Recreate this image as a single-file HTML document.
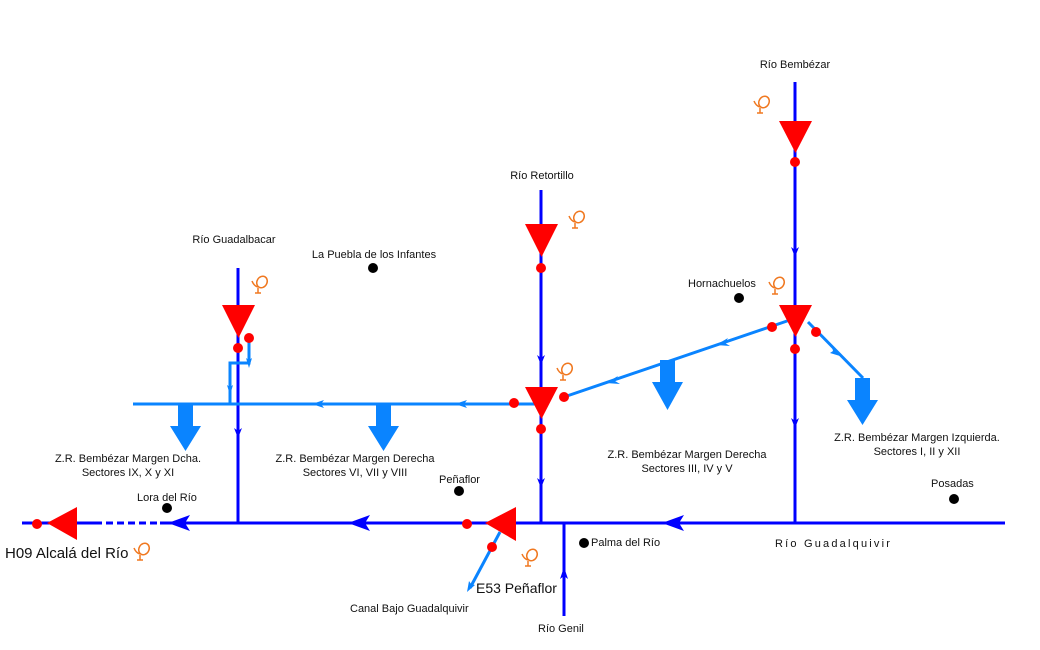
<!DOCTYPE html>
<html><head><meta charset="utf-8"><style>body{margin:0;background:#fff}svg{display:block}text{font-family:"Liberation Sans",sans-serif;font-size:11px;fill:#111}</style></head><body>
<svg width="1040" height="650" viewBox="0 0 1040 650">
<defs>
<g id="ic" fill="none" stroke="#f07820" stroke-width="1.5"><ellipse cx="4" cy="-3" rx="5" ry="6" transform="rotate(30 4 -3)"/><path d="M-6 -4 q2 5 6 6 M0 3 v5 M-3 8 h6"/></g>
</defs>
<g stroke="#0000ff" stroke-width="3" fill="none">
<line x1="22" y1="523" x2="95" y2="523"/>
<line x1="95" y1="523" x2="160" y2="523" stroke-dasharray="7,4"/>
<line x1="160" y1="523" x2="1005" y2="523"/>
<line x1="564" y1="523" x2="564" y2="616"/>
<line x1="541" y1="190" x2="541" y2="523"/>
<line x1="795" y1="82" x2="795" y2="523"/>
<line x1="238" y1="268" x2="238" y2="523"/>
</g>
<g fill="#0000ff">
<path d="M168 523 l22 -8 l-5 8 l5 8z"/>
<path d="M348 523 l22 -8 l-5 8 l5 8z"/>
<path d="M662 523 l22 -8 l-5 8 l5 8z"/>
<path d="M564 567 l-4 12 l4 -3 l4 3z"/>
<path d="M541 365 l-4 -10 l4 3 l4 -3z"/><path d="M541 488 l-4 -10 l4 3 l4 -3z"/>
<path d="M795 257 l-4 -10 l4 3 l4 -3z"/><path d="M795 428 l-4 -10 l4 3 l4 -3z"/>
<path d="M238 438 l-4 -10 l4 3 l4 -3z"/>
</g>
<g stroke="#0a84ff" stroke-width="3" fill="none">
<line x1="133" y1="404" x2="540" y2="404"/>
<line x1="564" y1="397" x2="790" y2="320"/>
<line x1="808" y1="322" x2="863" y2="378"/>
<polyline points="249,338 249,363 230,363 230,404"/>
<line x1="500" y1="532" x2="470" y2="588"/>
</g>
<g fill="#0a84ff">
<path d="M312 404 l12 -4 l-3 4 l3 4z"/><path d="M455 404 l12 -4 l-3 4 l3 4z"/>
<path d="M606 383 l12 -7 l-3 5 l5 3z"/><path d="M716 345 l12 -7 l-3 5 l5 3z"/>
<path d="M840 356 l-10 -3 l3 -2 l-1 -4z"/>
<path d="M249 368 l-3 -10 l3 2 l3 -2z"/><path d="M230 395 l-3 -10 l3 2 l3 -2z"/>
<path d="M467 592 l2 -11 l2 3 l4 1z"/>
<path d="M178 404 h15 v22 h8 l-15.5 25 l-15.5 -25 h8z"/>
<path d="M376 404 h15 v22 h8 l-15.5 25 l-15.5 -25 h8z"/>
<path d="M660 360 h15 v22 h8 l-15.5 28 l-15.5 -28 h8z"/>
<path d="M855 378 h15 v22 h8 l-15.5 25 l-15.5 -25 h8z"/>
</g>
<g fill="#ff0000">
<path d="M779 121 h33 l-16.5 32z"/><path d="M779 305 h33 l-16.5 32z"/>
<path d="M525 224 h33 l-16.5 33z"/><path d="M525 387 h33 l-16.5 32z"/>
<path d="M222 305 h33 l-16.5 33z"/>
<path d="M47 523 l30 -16 v33z"/><path d="M485 523 l31 -16 v34z"/>
<circle cx="795" cy="162" r="5"/><circle cx="772" cy="327" r="5"/><circle cx="795" cy="349" r="5"/><circle cx="816" cy="332" r="5"/>
<circle cx="541" cy="268" r="5"/><circle cx="541" cy="429" r="5"/><circle cx="514" cy="403" r="5"/><circle cx="564" cy="397" r="5"/>
<circle cx="238" cy="348" r="5"/><circle cx="249" cy="338" r="5"/>
<circle cx="37" cy="524" r="5"/><circle cx="467" cy="524" r="5"/><circle cx="492" cy="547" r="5"/>
</g>
<g fill="#000"><circle cx="373" cy="268" r="5"/><circle cx="739" cy="298" r="5"/><circle cx="459" cy="491" r="5"/><circle cx="167" cy="508" r="5"/><circle cx="584" cy="543" r="5"/><circle cx="954" cy="499" r="5"/></g>
<use href="#ic" x="760" y="105"/><use href="#ic" x="575" y="220"/><use href="#ic" x="258" y="285"/><use href="#ic" x="775" y="286"/><use href="#ic" x="563" y="372"/><use href="#ic" x="140" y="552"/><use href="#ic" x="528" y="558"/>
<text x="795" y="68" text-anchor="middle">Río Bembézar</text>
<text x="542" y="179" text-anchor="middle">Río Retortillo</text>
<text x="234" y="243" text-anchor="middle">Río Guadalbacar</text>
<text x="374" y="258" text-anchor="middle">La Puebla de los Infantes</text>
<text x="688" y="287">Hornachuelos</text>
<text x="128" y="462" text-anchor="middle">Z.R. Bembézar Margen Dcha.</text>
<text x="128" y="476" text-anchor="middle">Sectores IX, X y XI</text>
<text x="355" y="462" text-anchor="middle">Z.R. Bembézar Margen Derecha</text>
<text x="355" y="476" text-anchor="middle">Sectores VI, VII y VIII</text>
<text x="687" y="458" text-anchor="middle">Z.R. Bembézar Margen Derecha</text>
<text x="687" y="472" text-anchor="middle">Sectores III, IV y V</text>
<text x="917" y="441" text-anchor="middle">Z.R. Bembézar Margen Izquierda.</text>
<text x="917" y="455" text-anchor="middle">Sectores I, II y XII</text>
<text x="439" y="483">Peñaflor</text>
<text x="137" y="501">Lora del Río</text>
<text x="931" y="487">Posadas</text>
<text x="591" y="546">Palma del Río</text>
<text x="775" y="547" letter-spacing="2.2">Río Guadalquivir</text>
<text x="5" y="558" style="font-size:15px">H09 Alcalá del Río</text>
<text x="476" y="593" style="font-size:14px">E53 Peñaflor</text>
<text x="350" y="612">Canal Bajo Guadalquivir</text>
<text x="538" y="632">Río Genil</text>
</svg>
</body></html>
